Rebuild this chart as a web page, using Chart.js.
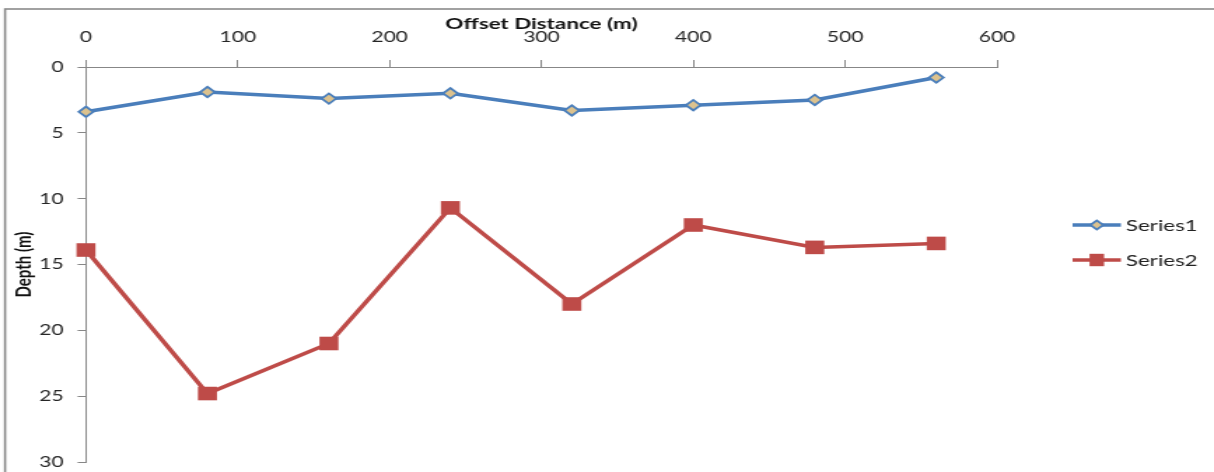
<!DOCTYPE html>
<html>
<head>
<meta charset="utf-8">
<script src="https://cdn.jsdelivr.net/npm/chart.js@4/dist/chart.umd.min.js"></script>
<style>
  html, body { margin: 0; padding: 0; background: #fff; overflow: hidden; }
</style>
</head>
<body>
<!-- drawn narrow and widened by CSS, giving the wide Excel-style lettering -->
<canvas id="c" width="867" height="472" style="display:block;width:1214px;height:472px"></canvas>
<script>
// Offsets along the survey line (m)
const offsets = [0, 80, 160, 240, 320, 400, 480, 560];
// Depth of each layer boundary (m)
const series1 = [3.4, 1.9, 2.4, 2.0, 3.3, 2.9, 2.5, 0.8];
const series2 = [13.9, 24.8, 21.0, 10.7, 18.0, 12.0, 13.7, 13.4];
const seriesNames = ['Series1', 'Series2'];
const xTicks = [0, 100, 200, 300, 400, 500, 600];
const yTicks = [0, 5, 10, 15, 20, 25, 30];

const BLUE = '#4A7EBB';
const RED = '#BE4B48';
const TAN = '#DCC28E';
const AXIS = '#878787';
const FONT = 'Lato';

const toPoints = (ys) => offsets.map((x, i) => ({ x: x, y: ys[i] }));

// outer frame of the chart object
const framePlugin = {
  id: 'frame',
  beforeDraw(chart) {
    const ctx = chart.ctx;
    ctx.save();
    ctx.strokeStyle = '#8a8a8a';
    ctx.lineWidth = 1.6;
    ctx.strokeRect(3.6, 9, 2000, 2000);
    ctx.restore();
  }
};

// legend on the right: line with the series marker in the middle
const legendPlugin = {
  id: 'sideLegend',
  afterDraw(chart) {
    const ctx = chart.ctx;
    const x0 = 766, x1 = 800.5, xm = 783.3, tx = 804;
    const rows = [225, 260];
    ctx.save();
    chart.data.datasets.forEach((ds, i) => {
      const y = rows[i];
      ctx.strokeStyle = ds.borderColor;
      ctx.lineWidth = 3.5;
      ctx.beginPath();
      ctx.moveTo(x0, y);
      ctx.lineTo(x1, y);
      ctx.stroke();
      if (ds.pointStyle === 'rectRot') {
        const r = 4.6;
        ctx.beginPath();
        ctx.moveTo(xm - r, y);
        ctx.lineTo(xm, y - r);
        ctx.lineTo(xm + r, y);
        ctx.lineTo(xm, y + r);
        ctx.closePath();
        ctx.fillStyle = ds.pointBackgroundColor;
        ctx.fill();
        ctx.lineWidth = 1.8;
        ctx.strokeStyle = ds.pointBorderColor;
        ctx.stroke();
      } else {
        ctx.fillStyle = ds.pointBackgroundColor;
        ctx.fillRect(xm - 5.2, y - 6.2, 10.4, 12.4);
      }
      ctx.fillStyle = '#222';
      ctx.font = '16px ' + FONT;
      ctx.textAlign = 'left';
      ctx.textBaseline = 'middle';
      ctx.fillText(ds.label, tx, y + 1);
    });
    ctx.restore();
  }
};

new Chart(document.getElementById('c'), {
  type: 'line',
  data: {
    datasets: [
      {
        label: seriesNames[0],
        data: toPoints(series1),
        borderColor: BLUE,
        borderWidth: 3.5,
        pointStyle: 'rectRot',
        pointRadius: 5.2,
        pointBorderWidth: 1.8,
        pointBackgroundColor: TAN,
        pointBorderColor: BLUE,
        tension: 0,
        clip: false
      },
      {
        label: seriesNames[1],
        data: toPoints(series2),
        borderColor: RED,
        borderWidth: 3.5,
        pointStyle: 'rect',
        pointRadius: 9.6,
        pointBorderWidth: 0,
        pointBackgroundColor: RED,
        pointBorderColor: RED,
        tension: 0,
        clip: false
      }
    ]
  },
  options: {
    responsive: false,
    devicePixelRatio: 1,
    animation: false,
    layout: { padding: { left: 0, top: 0, right: 155, bottom: 10 } },
    plugins: {
      legend: { display: false },
      tooltip: { enabled: false }
    },
    scales: {
      x: {
        type: 'linear',
        position: 'top',
        min: 0,
        max: 600,
        afterBuildTicks(s) { s.ticks = xTicks.map(v => ({ value: v })); },
        afterFit(s) { s.height = 67; s.paddingLeft = 0; s.paddingRight = 0; },
        grid: { drawOnChartArea: false, color: AXIS, tickLength: 7, lineWidth: 1 },
        border: { color: AXIS, width: 1 },
        ticks: { color: '#262626', font: { family: FONT, size: 15 }, padding: 14 },
        title: {
          display: true,
          text: 'Offset Distance (m)',
          color: '#111',
          font: { family: FONT, size: 16, weight: 'bold' },
          padding: { top: 14, bottom: 0 }
        }
      },
      y: {
        type: 'linear',
        reverse: true,
        min: 0,
        max: 30,
        afterBuildTicks(s) { s.ticks = yTicks.map(v => ({ value: v })); },
        afterFit(s) { s.width = 61.4; s.paddingTop = 0; s.paddingBottom = 0; },
        grid: { drawOnChartArea: false, color: AXIS, tickLength: 6, lineWidth: 1 },
        border: { color: AXIS, width: 1 },
        ticks: { color: '#262626', font: { family: FONT, size: 15 }, padding: 10 },
        title: {
          display: true,
          text: 'Depth (m)',
          color: '#111',
          font: { family: FONT, size: 15, weight: 'bold' },
          padding: { top: 8, bottom: 0 }
        }
      }
    }
  },
  plugins: [framePlugin, legendPlugin]
});
</script>
</body>
</html>
